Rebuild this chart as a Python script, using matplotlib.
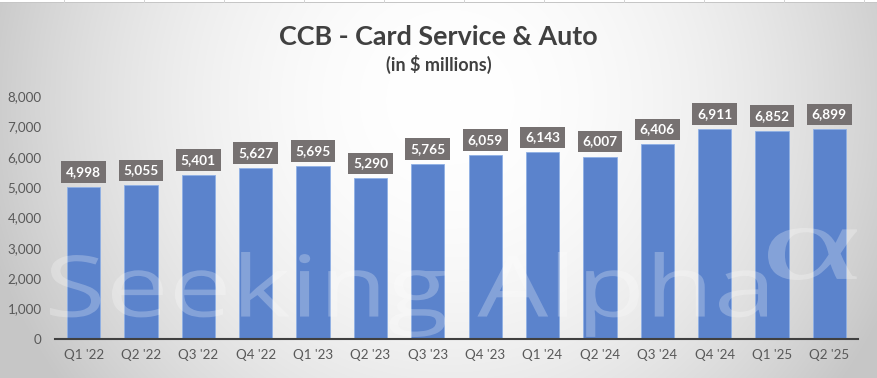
import numpy as np
import matplotlib
matplotlib.use('Agg')
import matplotlib.pyplot as plt
from matplotlib.textpath import TextPath
from matplotlib.patches import PathPatch, Rectangle
from matplotlib.font_manager import FontProperties
from matplotlib.transforms import Affine2D, IdentityTransform
from matplotlib.ticker import FuncFormatter

quarters = ["Q1 '22", "Q2 '22", "Q3 '22", "Q4 '22", "Q1 '23", "Q2 '23", "Q3 '23",
            "Q4 '23", "Q1 '24", "Q2 '24", "Q3 '24", "Q4 '24", "Q1 '25", "Q2 '25"]
revenue = [4998, 5055, 5401, 5627, 5695, 5290, 5765,
           6059, 6143, 6007, 6406, 6911, 6852, 6899]
y_ticks = [0, 1000, 2000, 3000, 4000, 5000, 6000, 7000, 8000]

W, H = 877, 378
plt.rcParams['font.family'] = ['Lato', 'DejaVu Sans']
fig = plt.figure(figsize=(W / 100, H / 100), dpi=100)

# radial gray gradient background
yy, xx = np.mgrid[0:H, 0:W]
d = np.sqrt((xx - 450.0) ** 2 + (yy - 100.0) ** 2) / 480.0
t = np.clip(d, 0, 1) ** 2
shade = 1.0 * (1 - t) + 0.78 * t
bg = np.dstack([shade, shade, shade])
fig.figimage(bg, 0, 0, origin='upper', zorder=-10)

# sliver of spreadsheet grid at the very top
fig.patches.append(Rectangle((0, H - 3), W, 3, transform=IdentityTransform(),
                             facecolor='white', edgecolor='none', zorder=-5))
fig.patches.append(Rectangle((0, H - 3), W, 1, transform=IdentityTransform(),
                             facecolor='#c6c6c6', edgecolor='none', zorder=-5))
for gx in range(64, W, 80):
    fig.patches.append(Rectangle((gx, H - 3), 1, 3, transform=IdentityTransform(),
                                 facecolor='#d4d4d4', edgecolor='none', zorder=-5))

ax = fig.add_axes([55 / W, (H - 339) / H, (858 - 55) / W, (339 - 96) / H])
ax.set_zorder(1)
ax.set_facecolor('none')
x = np.arange(len(quarters))
bars = ax.bar(x, revenue, width=0.58, color='#5b83cc', edgecolor='#8fb0e5',
              linewidth=0.6, zorder=2)
ax.set_xlim(-0.5, len(quarters) - 0.5)
ax.set_ylim(0, 8000)
ax.set_yticks(y_ticks)
ax.yaxis.set_major_formatter(FuncFormatter(lambda v, p: f'{int(v):,}'))
ax.set_xticks(x)
ax.set_xticklabels(quarters)
ax.tick_params(axis='both', length=0, colors='#595959', labelsize=9.6)
ax.tick_params(axis='y', pad=9.5)
ax.tick_params(axis='x', pad=7)
for s in ['top', 'right', 'left']:
    ax.spines[s].set_visible(False)
ax.spines['bottom'].set_color('#404040')
ax.spines['bottom'].set_linewidth(1.5)

for xi, v in zip(x, revenue):
    ax.annotate(f'{v:,}', (xi, v), xytext=(0, 6.5), textcoords='offset points',
                ha='center', va='bottom', color='white', fontsize=9.8,
                fontweight='bold', zorder=6,
                bbox=dict(boxstyle='square,pad=0.35', facecolor='#767171',
                          edgecolor='none'))

fig.text(0.4995, 1 - 37 / H, 'CCB - Card Service & Auto', ha='center', va='center',
         fontsize=19.4, fontweight='bold', color='#404040')
fig.text(0.5, 1 - 64 / H, '(in $ millions)', ha='center', va='center',
         fontsize=13, fontweight='bold', color='#404040')


# watermark, fitted to its box in pixel coordinates (left, right, top, bottom from image top)
def fit_text(s, x0, x1, ytop, ybot, family):
    tp = TextPath((0, 0), s, size=1, prop=FontProperties(family=family))
    bb = tp.get_extents()
    sx = (x1 - x0) / bb.width
    sy = (ybot - ytop) / bb.height
    tr = (Affine2D().translate(-bb.x0, -bb.y0).scale(sx, sy)
          .translate(x0, H - ybot) + IdentityTransform())
    fig.patches.append(PathPatch(tp, transform=tr, facecolor='white', alpha=0.25,
                                 edgecolor='none', zorder=4))


fit_text('Seeking Alpha', 50, 767, 252, 337, 'Open Sans')
fit_text('\u03b1', 768, 857, 228, 280, 'Liberation Serif')

fig.savefig('out.png', dpi=100)
